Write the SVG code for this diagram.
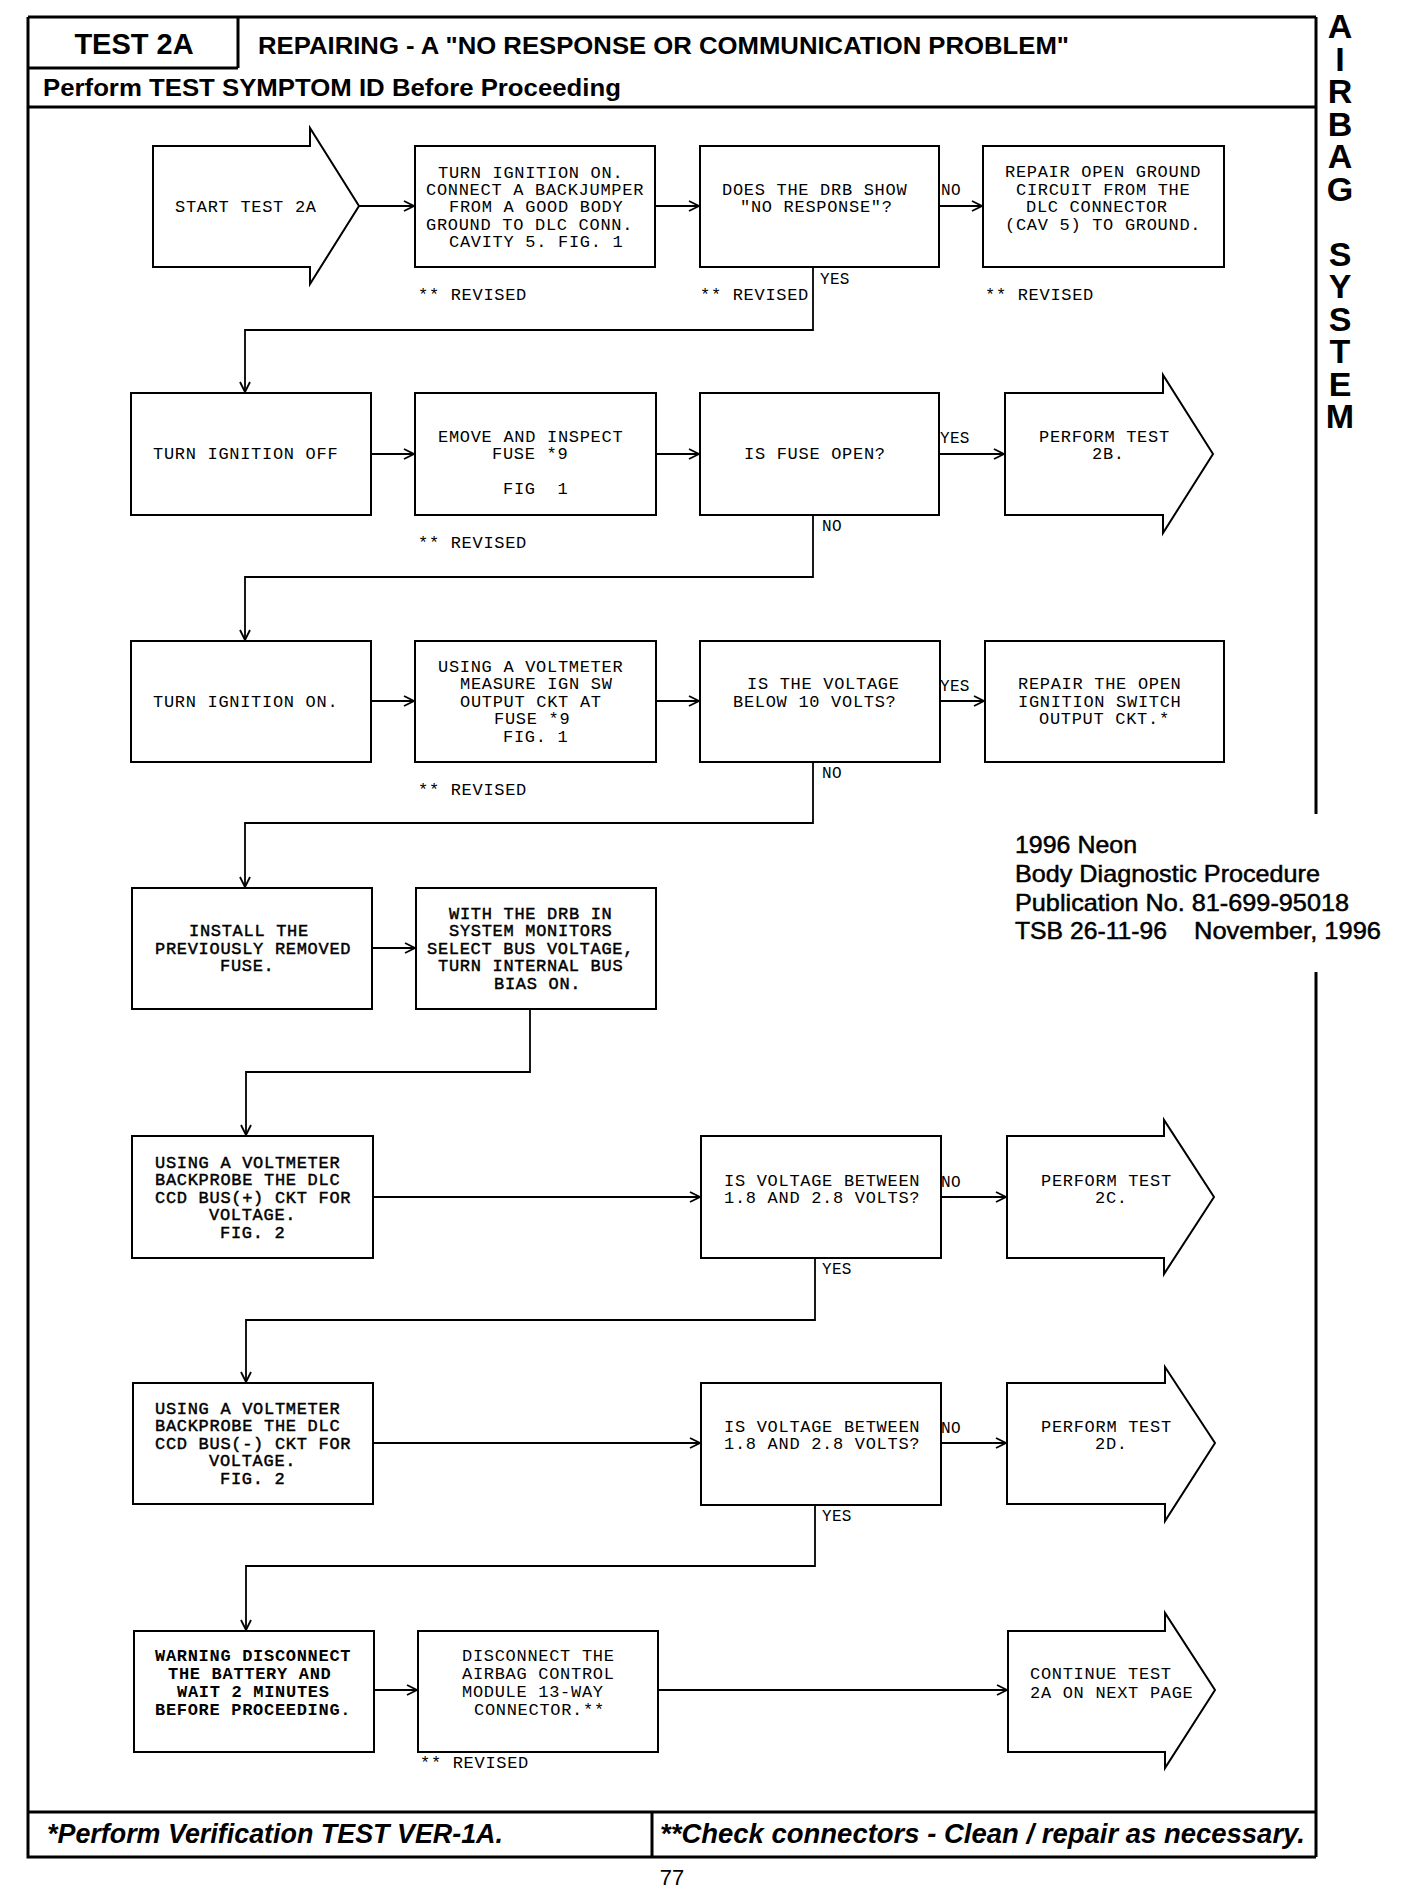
<svg xmlns="http://www.w3.org/2000/svg" width="1408" height="1894" viewBox="0 0 1408 1894">
<defs>
<style>
.bg{fill:#fff}
.fr{fill:none;stroke:#000;stroke-width:3}
.bx{fill:#fff;stroke:#000;stroke-width:2}
.cn{fill:none;stroke:#000;stroke-width:1.8}
.t{font-family:"Liberation Mono","DejaVu Sans Mono",monospace;font-size:17px;letter-spacing:0.7px;fill:#000}
.m{stroke:#000;stroke-width:0.45}
.b{font-weight:bold}
.lb{font-family:"Liberation Mono","DejaVu Sans Mono",monospace;font-size:16px;letter-spacing:0.3px;fill:#000}
.h{font-family:"Liberation Sans",Arial,sans-serif;font-weight:bold;fill:#000}
.f{font-family:"Liberation Sans",Arial,sans-serif;font-weight:bold;font-style:italic;font-size:27px;fill:#000}
.p{font-family:"Liberation Sans",Arial,sans-serif;font-size:24px;fill:#000;stroke:#000;stroke-width:0.5}
.v{font-family:"Liberation Sans",Arial,sans-serif;font-weight:bold;font-size:34px;fill:#000;writing-mode:vertical-rl;text-orientation:upright;letter-spacing:-5.5px}
</style>
<marker id="ah" viewBox="0 0 12 12" refX="11" refY="6" markerWidth="12" markerHeight="12" markerUnits="userSpaceOnUse" orient="auto">
<path d="M1,1 L11,6 L1,11" fill="none" stroke="#000" stroke-width="1.8"/>
</marker>
</defs>
<rect class="bg" x="0" y="0" width="1408" height="1894"/>

<g id="frame">
<path class="fr" d="M28,17 H1316 M28,17 V1857 H1316 M1316,17 V814 M1316,972 V1857 M238,17 V68 M28,68 H238 M28,107 H1316 M28,1812 H1316 M652,1812 V1857"/>
<text class="h" x="134" y="54" font-size="29" text-anchor="middle">TEST 2A</text>
<text class="h" x="258" y="54" font-size="23" textLength="811" lengthAdjust="spacingAndGlyphs">REPAIRING - A &quot;NO RESPONSE OR COMMUNICATION PROBLEM&quot;</text>
<text class="h" x="43" y="96" font-size="23" textLength="578" lengthAdjust="spacingAndGlyphs">Perform TEST SYMPTOM ID Before Proceeding</text>
<text class="f" x="47" y="1843" textLength="456" lengthAdjust="spacingAndGlyphs">*Perform Verification TEST VER-1A.</text>
<text class="f" x="660" y="1843" textLength="645" lengthAdjust="spacingAndGlyphs">**Check connectors - Clean / repair as necessary.</text>
<text x="672" y="1885" font-family="Liberation Sans, Arial, sans-serif" font-size="22" text-anchor="middle">77</text>
</g>

<g id="side-title">
<text class="v" x="1340" y="7">AIRBAG SYSTEM</text>
</g>

<g id="publication">
<text class="p" x="1015" y="853" textLength="122" lengthAdjust="spacingAndGlyphs">1996 Neon</text>
<text class="p" x="1015" y="882" textLength="305" lengthAdjust="spacingAndGlyphs">Body Diagnostic Procedure</text>
<text class="p" x="1015" y="911" textLength="334" lengthAdjust="spacingAndGlyphs">Publication No. 81-699-95018</text>
<text class="p" x="1015" y="939" textLength="152" lengthAdjust="spacingAndGlyphs">TSB 26-11-96</text>
<text class="p" x="1194" y="939" textLength="187" lengthAdjust="spacingAndGlyphs">November, 1996</text>
</g>

<g id="connectors">
<path class="cn" marker-end="url(#ah)" d="M359,206 H414"/>
<path class="cn" marker-end="url(#ah)" d="M655,206 H699"/>
<path class="cn" marker-end="url(#ah)" d="M939,206 H982"/>
<path class="cn" marker-end="url(#ah)" d="M813,267 V330 H245 V392"/>
<path class="cn" marker-end="url(#ah)" d="M371,454 H414"/>
<path class="cn" marker-end="url(#ah)" d="M656,454 H699"/>
<path class="cn" marker-end="url(#ah)" d="M939,454 H1004"/>
<path class="cn" marker-end="url(#ah)" d="M813,515 V577 H245 V640"/>
<path class="cn" marker-end="url(#ah)" d="M371,701 H414"/>
<path class="cn" marker-end="url(#ah)" d="M656,701 H699"/>
<path class="cn" marker-end="url(#ah)" d="M940,701 H984"/>
<path class="cn" marker-end="url(#ah)" d="M813,762 V823 H245 V887"/>
<path class="cn" marker-end="url(#ah)" d="M372,948 H415"/>
<path class="cn" marker-end="url(#ah)" d="M530,1009 V1072 H246 V1135"/>
<path class="cn" marker-end="url(#ah)" d="M373,1197 H700"/>
<path class="cn" marker-end="url(#ah)" d="M941,1197 H1006"/>
<path class="cn" marker-end="url(#ah)" d="M815,1258 V1320 H246 V1382"/>
<path class="cn" marker-end="url(#ah)" d="M373,1443 H700"/>
<path class="cn" marker-end="url(#ah)" d="M941,1443 H1006"/>
<path class="cn" marker-end="url(#ah)" d="M815,1505 V1566 H246 V1630"/>
<path class="cn" marker-end="url(#ah)" d="M374,1690 H417"/>
<path class="cn" marker-end="url(#ah)" d="M658,1690 H1007"/>
<text class="lb" x="941" y="195">NO</text>
<text class="lb" x="820" y="284">YES</text>
<text class="lb" x="940" y="443">YES</text>
<text class="lb" x="822" y="531">NO</text>
<text class="lb" x="940" y="691">YES</text>
<text class="lb" x="822" y="778">NO</text>
<text class="lb" x="941" y="1187">NO</text>
<text class="lb" x="822" y="1274">YES</text>
<text class="lb" x="941" y="1433">NO</text>
<text class="lb" x="822" y="1521">YES</text>
</g>

<g id="start">
<path class="bx" d="M153,146 H310 V128 L359,206 L310,284 V267 H153 Z"/>
<text class="t" x="175" y="212">START TEST 2A</text>
</g>
<g id="connect-jumper">
<rect class="bx" x="415" y="146" width="240" height="121"/>
<text class="t" x="438" y="177.5">TURN IGNITION ON.</text>
<text class="t" x="426" y="194.5">CONNECT A BACKJUMPER</text>
<text class="t" x="449" y="212">FROM A GOOD BODY</text>
<text class="t" x="426" y="229.5">GROUND TO DLC CONN.</text>
<text class="t" x="449" y="247">CAVITY 5. FIG. 1</text>
<text class="t" x="418" y="300">** REVISED</text>
</g>
<g id="drb-no-response">
<rect class="bx" x="700" y="146" width="239" height="121"/>
<text class="t" x="722" y="194.5">DOES THE DRB SHOW</text>
<text class="t" x="740" y="212">&quot;NO RESPONSE&quot;?</text>
<text class="t" x="700" y="300">** REVISED</text>
</g>
<g id="repair-ground">
<rect class="bx" x="983" y="146" width="241" height="121"/>
<text class="t" x="1005" y="177">REPAIR OPEN GROUND</text>
<text class="t" x="1016" y="194.5">CIRCUIT FROM THE</text>
<text class="t" x="1026" y="212">DLC CONNECTOR</text>
<text class="t" x="1005" y="229.5">(CAV 5) TO GROUND.</text>
<text class="t" x="985" y="300">** REVISED</text>
</g>

<g id="ignition-off">
<rect class="bx" x="131" y="393" width="240" height="122"/>
<text class="t" x="153" y="459">TURN IGNITION OFF</text>
</g>
<g id="inspect-fuse">
<rect class="bx" x="415" y="393" width="241" height="122"/>
<text class="t" x="438" y="441.5">EMOVE AND INSPECT</text>
<text class="t" x="492" y="459">FUSE *9</text>
<text class="t" x="503" y="494" style="white-space:pre">FIG  1</text>
<text class="t" x="418" y="548">** REVISED</text>
</g>
<g id="fuse-open">
<rect class="bx" x="700" y="393" width="239" height="122"/>
<text class="t" x="744" y="459">IS FUSE OPEN?</text>
</g>
<g id="test-2b">
<path class="bx" d="M1005,393 H1163 V375 L1213,454 L1163,533 V515 H1005 Z"/>
<text class="t" x="1039" y="441.5">PERFORM TEST</text>
<text class="t" x="1092" y="459">2B.</text>
</g>

<g id="ignition-on">
<rect class="bx" x="131" y="641" width="240" height="121"/>
<text class="t" x="153" y="706.5">TURN IGNITION ON.</text>
</g>
<g id="measure-ign">
<rect class="bx" x="415" y="641" width="241" height="121"/>
<text class="t" x="438" y="671.5">USING A VOLTMETER</text>
<text class="t" x="460" y="689">MEASURE IGN SW</text>
<text class="t" x="460" y="706.5">OUTPUT CKT AT</text>
<text class="t" x="494" y="724">FUSE *9</text>
<text class="t" x="503" y="741.5">FIG. 1</text>
<text class="t" x="418" y="795">** REVISED</text>
</g>
<g id="below-10v">
<rect class="bx" x="700" y="641" width="240" height="121"/>
<text class="t" x="747" y="689">IS THE VOLTAGE</text>
<text class="t" x="733" y="706.5">BELOW 10 VOLTS?</text>
</g>
<g id="repair-ign-switch">
<rect class="bx" x="985" y="641" width="239" height="121"/>
<text class="t" x="1018" y="689">REPAIR THE OPEN</text>
<text class="t" x="1018" y="706.5">IGNITION SWITCH</text>
<text class="t" x="1039" y="724">OUTPUT CKT.*</text>
</g>

<g id="install-fuse">
<rect class="bx" x="132" y="888" width="240" height="121"/>
<text class="t m" x="189" y="935.5">INSTALL THE</text>
<text class="t m" x="155" y="953.5">PREVIOUSLY REMOVED</text>
<text class="t m" x="220" y="971">FUSE.</text>
</g>
<g id="bus-bias">
<rect class="bx" x="416" y="888" width="240" height="121"/>
<text class="t m" x="449" y="918.5">WITH THE DRB IN</text>
<text class="t m" x="449" y="936">SYSTEM MONITORS</text>
<text class="t m" x="427" y="953.5">SELECT BUS VOLTAGE,</text>
<text class="t m" x="438" y="971">TURN INTERNAL BUS</text>
<text class="t m" x="494" y="988.5">BIAS ON.</text>
</g>

<g id="bus-plus">
<rect class="bx" x="132" y="1136" width="241" height="122"/>
<text class="t m" x="155" y="1167.5">USING A VOLTMETER</text>
<text class="t m" x="155" y="1185">BACKPROBE THE DLC</text>
<text class="t m" x="155" y="1202.5">CCD BUS(+) CKT FOR</text>
<text class="t m" x="209" y="1220">VOLTAGE.</text>
<text class="t m" x="220" y="1237.5">FIG. 2</text>
</g>
<g id="check-plus">
<rect class="bx" x="701" y="1136" width="240" height="122"/>
<text class="t" x="724" y="1185.5">IS VOLTAGE BETWEEN</text>
<text class="t" x="724" y="1203">1.8 AND 2.8 VOLTS?</text>
</g>
<g id="test-2c">
<path class="bx" d="M1007,1136 H1164 V1120 L1214,1197 L1164,1274 V1258 H1007 Z"/>
<text class="t" x="1041" y="1185.5">PERFORM TEST</text>
<text class="t" x="1095" y="1203">2C.</text>
</g>

<g id="bus-minus">
<rect class="bx" x="133" y="1383" width="240" height="121"/>
<text class="t m" x="155" y="1413.5">USING A VOLTMETER</text>
<text class="t m" x="155" y="1431">BACKPROBE THE DLC</text>
<text class="t m" x="155" y="1448.5">CCD BUS(-) CKT FOR</text>
<text class="t m" x="209" y="1466">VOLTAGE.</text>
<text class="t m" x="220" y="1483.5">FIG. 2</text>
</g>
<g id="check-minus">
<rect class="bx" x="701" y="1383" width="240" height="122"/>
<text class="t" x="724" y="1431.5">IS VOLTAGE BETWEEN</text>
<text class="t" x="724" y="1449">1.8 AND 2.8 VOLTS?</text>
</g>
<g id="test-2d">
<path class="bx" d="M1007,1383 H1165 V1367 L1215,1443 L1165,1521 V1504 H1007 Z"/>
<text class="t" x="1041" y="1431.5">PERFORM TEST</text>
<text class="t" x="1095" y="1449">2D.</text>
</g>

<g id="warning">
<rect class="bx" x="134" y="1631" width="240" height="121"/>
<text class="t b" x="155" y="1660.5">WARNING DISCONNECT</text>
<text class="t b" x="168" y="1678.5">THE BATTERY AND</text>
<text class="t b" x="177" y="1696.5">WAIT 2 MINUTES</text>
<text class="t b" x="155" y="1714.5">BEFORE PROCEEDING.</text>
</g>
<g id="disconnect-module">
<rect class="bx" x="418" y="1631" width="240" height="121"/>
<text class="t" x="462" y="1660.5">DISCONNECT THE</text>
<text class="t" x="462" y="1678.5">AIRBAG CONTROL</text>
<text class="t" x="462" y="1696.5">MODULE 13-WAY</text>
<text class="t" x="474" y="1714.5">CONNECTOR.**</text>
<text class="t" x="420" y="1768">** REVISED</text>
</g>
<g id="continue">
<path class="bx" d="M1008,1631 H1165 V1613 L1215,1690 L1165,1768 V1752 H1008 Z"/>
<text class="t" x="1030" y="1678.5">CONTINUE TEST</text>
<text class="t" x="1030" y="1697.5">2A ON NEXT PAGE</text>
</g>
</svg>
